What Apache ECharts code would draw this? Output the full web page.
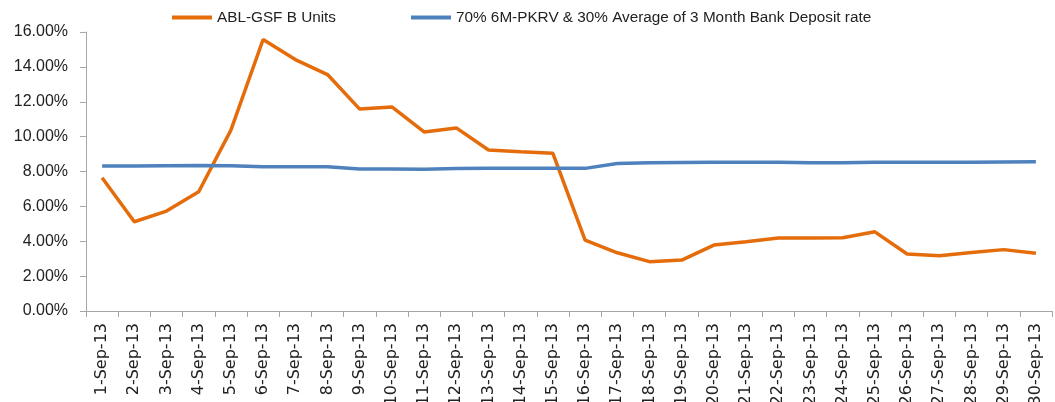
<!DOCTYPE html>
<html>
<head>
<meta charset="utf-8">
<script src="https://cdn.jsdelivr.net/npm/echarts@6/dist/echarts.min.js"></script>
<style>
html, body { margin: 0; padding: 0; background: #fff; }
#chart { width: 1055px; height: 402px; }
</style>
</head>
<body>
<div id="chart"></div>
<script>
var days = [];
for (var d = 1; d <= 30; d++) days.push(d + '-Sep-13');

var ablValues = [7.64, 5.12, 5.73, 6.84, 10.37, 15.57, 14.42, 13.56, 11.58, 11.70,
                 10.27, 10.50, 9.23, 9.13, 9.04, 4.07, 3.34, 2.83, 2.92, 3.78,
                 3.97, 4.18, 4.18, 4.20, 4.54, 3.27, 3.17, 3.35, 3.52, 3.31];
var benchValues = [8.31, 8.31, 8.33, 8.34, 8.33, 8.27, 8.27, 8.27, 8.14, 8.14,
                   8.13, 8.17, 8.18, 8.18, 8.18, 8.18, 8.46, 8.50, 8.52, 8.53,
                   8.53, 8.53, 8.50, 8.50, 8.53, 8.53, 8.53, 8.53, 8.55, 8.56];

var chart = echarts.init(document.getElementById('chart'));
var option = {
    animation: false,
    textStyle: { fontFamily: 'Liberation Sans, sans-serif' },
    legend: {
        top: 5,
        left: 167,
        itemWidth: 40,
        itemHeight: 4,
        itemGap: 75,
        icon: 'rect',
        textStyle: { fontSize: 15.3, color: '#222' },
        data: ['ABL-GSF B Units', '70% 6M-PKRV & 30% Average of 3 Month Bank Deposit rate']
    },
    grid: { left: 86, right: 3, top: 32, bottom: 91, containLabel: false, outerBoundsMode: 'none' },
    xAxis: {
        type: 'category',
        data: days,
        boundaryGap: true,
        axisLine: { lineStyle: { color: '#a6a6a6', width: 1 } },
        axisTick: { show: true, length: 6, lineStyle: { color: '#a6a6a6' } },
        axisLabel: {
            rotate: 90, interval: 0, fontSize: 16, color: '#222', margin: 12,
            fontFamily: 'DejaVu Sans, sans-serif'
        }
    },
    yAxis: {
        type: 'value',
        min: 0,
        max: 16,
        interval: 2,
        axisLine: { show: true, lineStyle: { color: '#a6a6a6' } },
        axisTick: { show: true, length: 6, lineStyle: { color: '#a6a6a6' } },
        splitLine: { show: false },
        axisLabel: {
            fontSize: 16, color: '#222', margin: 18,
            formatter: function (v) { return v.toFixed(2) + '%'; }
        }
    },
    series: [
        {
            name: 'ABL-GSF B Units',
            type: 'line',
            data: ablValues,
            symbol: 'none',
            color: '#e46c0a',
            lineStyle: { width: 3.5, color: '#e46c0a' }
        },
        {
            name: '70% 6M-PKRV & 30% Average of 3 Month Bank Deposit rate',
            type: 'line',
            data: benchValues,
            symbol: 'none',
            color: '#4f81bd',
            lineStyle: { width: 3.5, color: '#4f81bd' }
        }
    ]
};
chart.setOption(option);
</script>
</body>
</html>
